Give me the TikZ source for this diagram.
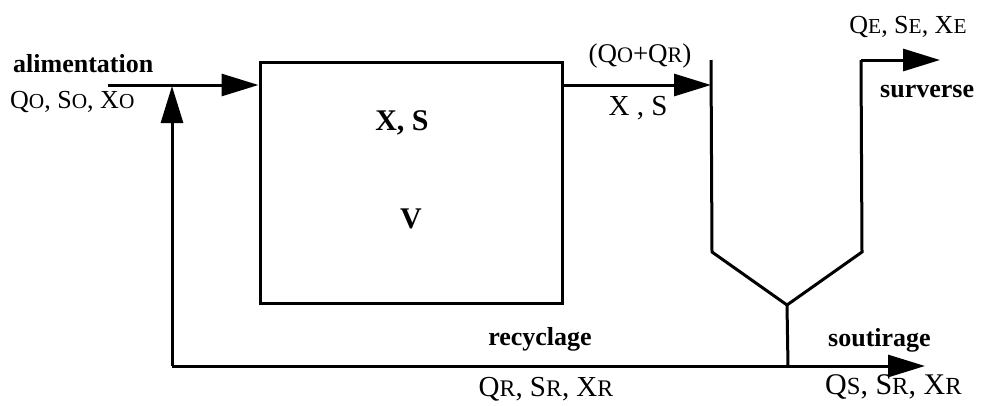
\documentclass[tikz,border=0pt]{standalone}
\usepackage{fontspec}
\setmainfont{Liberation Serif}
\usetikzlibrary{arrows.meta}
\newcommand\lowcap[1]{\scalebox{0.82}{#1}}
\tikzset{
  flow/.style={line width=3pt},
  arr/.style={flow,-{Triangle[length=37pt,width=22pt]}},
  lbl/.style={font=\fontsize{26}{30}\selectfont, inner sep=0pt, anchor=base},
  biglbl/.style={lbl, font=\fontsize{29}{33}\selectfont},
  blbl/.style={lbl, font=\fontsize{26}{30}\selectfont\bfseries},
  boxlbl/.style={lbl, font=\fontsize{30}{34}\selectfont\bfseries},
  tank/.style={draw, line width=3pt, minimum width=302pt, minimum height=241pt, inner sep=0pt}
}
\begin{document}
\begin{tikzpicture}[x=1pt,y=-1pt]
\useasboundingbox (0,0) rectangle (988,405);
% reactor
\node[tank] (box) at (411,182.5) {};
\node[boxlbl] (xs) at (402,130) {X, S};
\node[boxlbl] (v) at (411,228) {V};
% feed
\coordinate (fs) at (108,85);
\draw[arr] (fs) -- (box.west |- fs);
\node[blbl, anchor=base west] (alim) at (13,72) {alimentation};
\node[lbl, anchor=base west] (qo) at (10,108) {Q\lowcap{O}, S\lowcap{O}, X\lowcap{O}};
% recycle
\coordinate (r1) at (172,366);
\coordinate (rt) at (172,86);
\coordinate (rj) at (788,366);
\coordinate (se) at (925,366);
\draw[arr] (r1) -- (rt);
\draw[flow] (r1) -- (rj);
\draw[arr] (rj) -- (se);
\node[blbl] (rec) at (540,345) {recyclage};
\node[biglbl] (qr) at (546,396) {Q\lowcap{R}, S\lowcap{R}, X\lowcap{R}};
\node[blbl, anchor=base west] (sout) at (828,346) {soutirage};
\node[biglbl, anchor=base west, font=\fontsize{30}{34}\selectfont] (qs) at (825,394) {Q\lowcap{S}, S\lowcap{R}, X\lowcap{R}};
% out of reactor
\coordinate (c1) at (711,60);
\coordinate (c2) at (712,252);
\coordinate (c3) at (787,305);
\coordinate (c4) at (862,252);
\coordinate (c5) at (861,60);
\coordinate (ce) at (711,85);
\draw[arr] (box.east |- ce) -- (ce);
\draw[flow, line join=miter] (c1) -- (c2) -- (c3) -- (c4) -- (c5);
\draw[flow] (c3) -- (rj);
\node[lbl, font=\fontsize{27}{31}\selectfont] (qoqr) at (640,62) {(Q\lowcap{O}+Q\lowcap{R})};
\node[biglbl] (xs2) at (638,115) {X , S};
% surverse
\coordinate (sv) at (940,60);
\draw[arr] (c5) -- (sv);
\node[lbl] (qe) at (908,33) {Q\lowcap{E}, S\lowcap{E}, X\lowcap{E}};
\node[blbl, anchor=base west] (surv) at (880,97) {surverse};
\end{tikzpicture}
\end{document}
